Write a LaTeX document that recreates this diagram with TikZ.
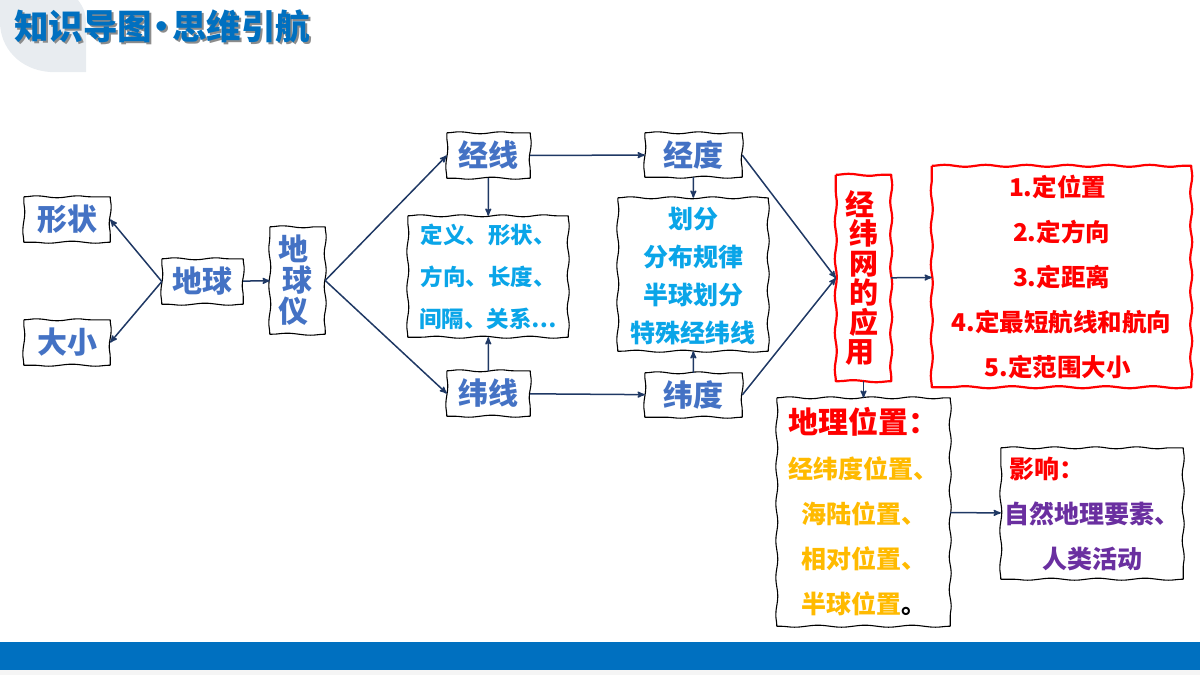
\documentclass[tikz,border=0pt]{standalone}
\usepackage{fontspec}
\setmainfont{Noto Sans CJK SC}
\usepackage{tikz}
\usetikzlibrary{decorations.pathmorphing,arrows}
\definecolor{lineblue}{HTML}{1F3864}
\definecolor{textblue}{HTML}{4472C4}
\definecolor{skyblue}{HTML}{0AA5E8}
\definecolor{amber}{HTML}{FFBA00}
\definecolor{violet}{HTML}{6A2FA0}
\definecolor{bandblue}{HTML}{0070C0}
\definecolor{cornergray}{HTML}{E8ECF0}
\newcommand{\wobbleframe}[2][black]{\draw [#1,line join=round]
  (#2.north west) decorate[wobbleside=41bp] {-- (#2.north east)}
  decorate[wobbleside=33bp] {-- (#2.south east)}
  decorate[wobbleside=47bp] {-- (#2.south west)}
  decorate[wobbleside=37bp] {-- (#2.north west)};}
\tikzset{
  wobbleside/.style={decoration={snake,segment length=#1,amplitude=1bp}},
  box/.style={inner sep=0pt,align=center,text=textblue,
    font=\fontsize{30bp}{31bp}\selectfont\bfseries},
  link/.style={->,>=stealth',line width=1.5bp,color=lineblue},
  titletext/.style={font=\fontsize{34.5bp}{36bp}\selectfont\bfseries},
}
\begin{document}
\begin{tikzpicture}
\useasboundingbox (0bp,0bp) rectangle (1200bp,-675bp);

\fill [cornergray] (0bp,0bp) -- (78bp,0bp) .. controls (84bp,-8bp) and (86bp,-14bp) .. (86bp,-22bp) -- (86bp,-72bp) -- (50bp,-72bp) .. controls (20bp,-70bp) and (0bp,-48bp) .. (0bp,-22bp) -- cycle;
\fill [bandblue] (0bp,-642bp) rectangle (1200bp,-670bp);
\fill [black!4] (0bp,-670bp) rectangle (1200bp,-675bp);

\node (TitleShadow) at (164bp,-28bp)[text=black!45,titletext] {知识导图\kern-7.25bp·\kern-7.25bp思维引航};
\node (Title) at (162bp,-26bp)[text=bandblue,titletext] {知识导图\kern-7.25bp·\kern-7.25bp思维引航};

\node (XZ) at (67bp,-219.5bp)[box,minimum width=86bp,minimum height=45bp] {形状};
\node (DX) at (67bp,-342.5bp)[box,minimum width=86bp,minimum height=45bp] {大小};
\node (DQ) at (202.5bp,-281.5bp)[box,minimum width=81bp,minimum height=45bp] {地球};
\node (DQY) at (297.5bp,-280.5bp)[box,minimum width=55bp,minimum height=107bp] {地\hspace*{8bp}\\球\hspace*{8bp}\\仪\hspace*{8bp}};
\node (JX) at (488.5bp,-155.5bp)[box,minimum width=83bp,minimum height=45bp] {经线};
\node (WX) at (488.5bp,-393.5bp)[box,minimum width=83bp,minimum height=45bp] {纬线};
\node (JD) at (693.5bp,-155bp)[box,minimum width=97bp,minimum height=44bp] {经度};
\node (WD) at (693.5bp,-395bp)[box,minimum width=97bp,minimum height=44bp] {纬度};
\node (JXT) at (488bp,-276.5bp)[box,minimum width=160bp,minimum height=121bp,text=skyblue,
  font=\fontsize{22.5bp}{42bp}\selectfont\bfseries] {定义、形状、\\方向、长度、\\间隔、关系…};
\node (JDT) at (693bp,-274.5bp)[box,minimum width=150bp,minimum height=153bp,text=skyblue,
  font=\fontsize{25bp}{38bp}\selectfont\bfseries] {\rule{0pt}{25bp}划分\\分布规律\\半球划分\\特殊经纬线};
\node (JWW) at (863.5bp,-278bp)[box,minimum width=55bp,minimum height=206bp,text=red,
  font=\fontsize{29bp}{29.5bp}\selectfont\bfseries] {经\hspace*{7bp}\\纬\hspace*{7bp}\\网\hspace*{7bp}\\的\hspace*{7bp}\\应\hspace*{7bp}\\用\hspace*{7bp}};
\node (YY) at (1061.5bp,-276.5bp)[box,minimum width=259bp,minimum height=221bp,text=red,
  font=\fontsize{24.5bp}{45bp}\selectfont\bfseries] {1.定位置\hspace*{8bp}\\2.定方向\hspace*{8bp}\\3.定距离\hspace*{8bp}\\4.定最短航线和航向\hspace*{8bp}\\5.定范围大小\hspace*{8bp}};
\node (DLWZ) at (863.5bp,-512bp)[box,minimum width=173bp,minimum height=228bp,text=amber,
  font=\fontsize{25bp}{45bp}\selectfont\bfseries] {{\color{red}\fontsize{30bp}{45bp}\selectfont 地理位置：}\\经纬度位置、\\海陆位置、\\相对位置、\\半球位置{\color{black}。}};
\node (YX) at (1092bp,-513.5bp)[box,minimum width=182bp,minimum height=131bp,text=violet,
  font=\fontsize{25bp}{45bp}\selectfont\bfseries] {{\color{red}影响：}\hspace*{90bp}\\自然地理要素、\\人类活动};

\foreach \n in {XZ,DX,DQ,DQY,JX,WX,JD,WD,JXT,JDT,DLWZ,YX} {\wobbleframe[black,line width=1.1bp]{\n}}
\foreach \n in {JWW,YY} {\wobbleframe[red,line width=2.2bp]{\n}}

\draw [link] (DQ.west) -- (XZ.east);
\draw [link] (DQ.west) -- (DX.east);
\draw [link] (DQ) -- (DQY);
\draw [link] (DQY.east) -- (JX.west);
\draw [link] (DQY.east) -- (WX.west);
\draw [link] (JX) -- (JD);
\draw [link] (JX) -- (JXT);
\draw [link] (WX) -- (JXT);
\draw [link] (WX) -- (WD);
\draw [link] (JD) -- (JDT);
\draw [link] (WD) -- (JDT);
\draw [link] (JD.east) -- (JWW.west);
\draw [link] (WD.east) -- (JWW.west);
\draw [link] (JWW) -- (YY);
\draw [link] (JWW) -- (DLWZ);
\draw [link] (DLWZ) -- (YX);
\end{tikzpicture}
\end{document}
